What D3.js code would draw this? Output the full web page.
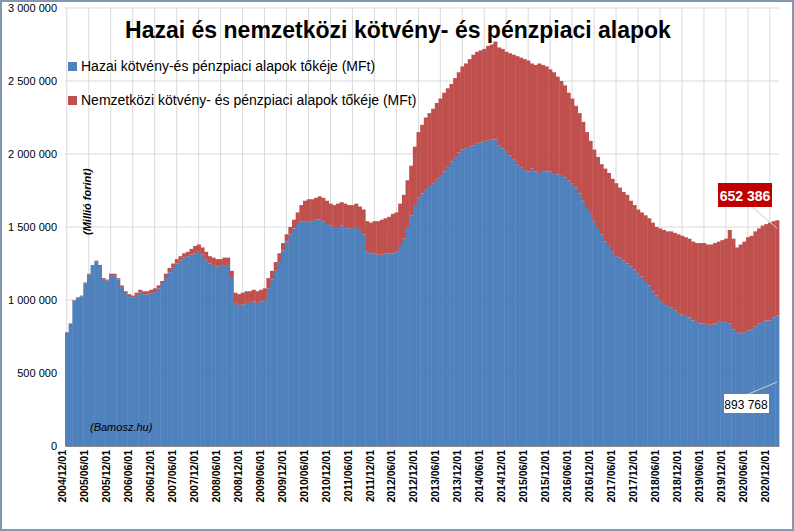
<!DOCTYPE html>
<html><head><meta charset="utf-8">
<script src="https://cdn.jsdelivr.net/npm/d3@7"></script>
<style>body{margin:0;background:#fff}svg{font-family:"Liberation Sans",Arial,sans-serif}</style>
</head><body><svg width="794" height="531"></svg>
<script>
// monthly values, thousand MFt, 2004/12 .. 2021/02
const totalK = [780,
 840,1000,1020,1030,1120,1180,1240,1270,1240,1150,1140,1180,
 1180,1150,1100,1060,1040,1030,1050,1070,1060,1060,1070,1080,
 1100,1130,1180,1220,1250,1280,1300,1320,1330,1350,1370,1380,
 1360,1330,1300,1290,1280,1280,1290,1290,1200,1050,1040,1050,
 1060,1060,1070,1060,1070,1080,1150,1200,1260,1320,1390,1450,
 1500,1550,1600,1650,1680,1690,1690,1700,1710,1700,1680,1660,
 1650,1660,1670,1660,1650,1650,1660,1640,1620,1540,1530,1540,
 1540,1550,1560,1570,1590,1600,1660,1720,1820,1920,2050,2150,
 2200,2250,2280,2310,2350,2380,2420,2450,2480,2520,2560,2600,
 2620,2650,2680,2700,2710,2720,2740,2750,2770,2730,2720,2700,
 2690,2680,2670,2660,2650,2640,2620,2610,2620,2610,2600,2580,
 2560,2530,2500,2470,2420,2380,2330,2280,2220,2150,2090,2030,
 1980,1930,1900,1870,1830,1800,1770,1740,1720,1680,1650,1620,
 1600,1580,1560,1530,1500,1490,1480,1470,1470,1460,1450,1440,
 1430,1420,1400,1390,1390,1390,1380,1380,1390,1400,1410,1420,
 1480,1420,1360,1380,1400,1430,1440,1470,1490,1510,1520,1530,
 1540,1546];
const domesticK = [778,
 838,997,1017,1026,1115,1175,1234,1263,1233,1143,1132,1171,
 1170,1140,1090,1048,1027,1016,1034,1052,1040,1038,1046,1054,
 1080,1110,1150,1190,1220,1250,1270,1290,1300,1310,1320,1330,
 1310,1280,1250,1240,1230,1240,1240,1240,1150,980,960,970,
 980,980,990,980,990,1000,1080,1140,1200,1260,1340,1400,
 1450,1490,1520,1540,1540,1540,1540,1550,1550,1540,1520,1510,
 1500,1500,1510,1500,1490,1500,1500,1480,1450,1330,1320,1320,
 1310,1310,1320,1320,1320,1330,1370,1420,1500,1580,1650,1700,
 1730,1760,1780,1800,1830,1850,1880,1910,1950,1980,2010,2030,
 2040,2050,2060,2070,2080,2090,2090,2100,2100,2060,2040,2020,
 1990,1960,1930,1910,1890,1880,1900,1880,1870,1890,1880,1880,
 1870,1860,1850,1840,1820,1800,1770,1730,1680,1630,1590,1540,
 1500,1450,1400,1370,1330,1300,1290,1270,1250,1230,1210,1180,
 1160,1130,1100,1060,1030,1000,980,960,950,930,910,900,
 890,880,860,850,840,840,830,830,840,850,850,850,
 840,800,780,770,780,790,800,820,840,850,860,860,
 880,894];
const seriesNames = ["Hazai kötvény-és pénzpiaci alapok tőkéje (MFt)", "Nemzetközi kötvény- és pénzpiaci alapok tőkéje (MFt)"];
const yTicks = [0,500000,1000000,1500000,2000000,2500000,3000000];

const months = totalK.map((_, i) => {
  const m = 11 + i, y = 2004 + Math.floor(m / 12), mm = m % 12 + 1;
  return y + "/" + String(mm).padStart(2, "0") + "/01";
});
const rows = months.map((d, i) => ({d, dom: domesticK[i]*1000, intl: (totalK[i]-domesticK[i])*1000}));

const svg = d3.select("svg");
svg.append("rect").attr("x",1).attr("y",1).attr("width",792).attr("height",529).attr("fill","#fff").attr("stroke","#8497b0").attr("stroke-width",2);
const L = 65, R = 779, T = 8, B = 446;
const x = d3.scaleBand().domain(months).range([L, R]).padding(0);
const y = d3.scaleLinear().domain([0, 3000000]).range([B, T]);
const fmt = v => d3.format(",")(v).replace(/,/g, " ");

const labelMonths = months.filter((d, i) => i % 6 === 0);
svg.append("g").selectAll("line").data(labelMonths).join("line")
  .attr("x1", d => x(d) + x.bandwidth()/2).attr("x2", d => x(d) + x.bandwidth()/2)
  .attr("y1", T).attr("y2", B).attr("stroke", "#d9d9d9");
svg.append("g").selectAll("line").data(yTicks).join("line")
  .attr("x1", L).attr("x2", R).attr("y1", d => y(d)).attr("y2", d => y(d)).attr("stroke", "#d9d9d9");

const stack = d3.stack().keys(["dom","intl"])(rows);
const colors = ["#4f81bd", "#c0504d"];
svg.append("g").selectAll("g").data(stack).join("g").attr("fill", (d,i) => colors[i])
  .selectAll("rect").data(d => d).join("rect")
  .attr("x", d => x(d.data.d)).attr("width", x.bandwidth() + 0.4)
  .attr("y", d => y(d[1])).attr("height", d => y(d[0]) - y(d[1]));

const ya = svg.append("g").attr("transform", `translate(${L},0)`)
  .call(d3.axisLeft(y).tickValues(yTicks).tickFormat(fmt).tickSize(0).tickPadding(8));
ya.select(".domain").remove();
ya.selectAll("text").attr("font-size", 11).attr("fill", "#000");

const xa = svg.append("g").attr("transform", `translate(0,${B})`)
  .call(d3.axisBottom(x).tickValues(labelMonths).tickSize(0));
xa.select(".domain").attr("stroke", "#888");
xa.selectAll("text").attr("font-size", 10.5).attr("font-weight", "bold").attr("fill", "#000")
  .attr("transform", "rotate(-90)").attr("text-anchor", "end").attr("dx", "-4px").attr("dy", "-0.35em").attr("x", 0).attr("y", 0);
xa.selectAll(".tick text").attr("transform", "rotate(-90)").style("dominant-baseline", "middle");

svg.append("text").attr("x", 398).attr("y", 38).attr("text-anchor", "middle")
  .attr("font-size", 23).attr("font-weight", "bold").text("Hazai és nemzetközi kötvény- és pénzpiaci alapok");

seriesNames.forEach((n, i) => {
  const yy = 68 + i * 34;
  svg.append("rect").attr("x", 68).attr("y", yy - 6).attr("width", 9).attr("height", 9).attr("fill", colors[i]);
  svg.append("text").attr("x", 81).attr("y", yy + 3).attr("font-size", 14).attr("fill", "#000").text(n);
});

svg.append("text").attr("transform", "translate(91,235) rotate(-90)").attr("font-size", 11)
  .attr("font-weight", "bold").attr("font-style", "italic").text("(Millió forint)");
svg.append("text").attr("x", 90).attr("y", 431).attr("font-size", 11).attr("font-style", "italic").text("(Bamosz.hu)");

const last = rows[rows.length - 1];
const lx = x(last.d) + x.bandwidth()/2;
svg.append("line").attr("x1", 752).attr("y1", 207).attr("x2", lx).attr("y2", y(last.dom + last.intl) + 8).attr("stroke", "#ccc");
svg.append("rect").attr("x", 718).attr("y", 183).attr("width", 54).attr("height", 24).attr("fill", "#c00000");
svg.append("text").attr("x", 745).attr("y", 201).attr("text-anchor", "middle").attr("fill", "#fff")
  .attr("font-size", 14).attr("font-weight", "bold").text(fmt(last.intl < 652386 ? 652386 : Math.round(last.intl)));
svg.append("line").attr("x1", 746).attr("y1", 395).attr("x2", lx).attr("y2", 382).attr("stroke", "#ccc");
svg.append("rect").attr("x", 724).attr("y", 394).attr("width", 45).attr("height", 19).attr("fill", "#fff");
svg.append("text").attr("x", 746).attr("y", 409).attr("text-anchor", "middle").attr("font-size", 12).text("893 768");
</script></body></html>
